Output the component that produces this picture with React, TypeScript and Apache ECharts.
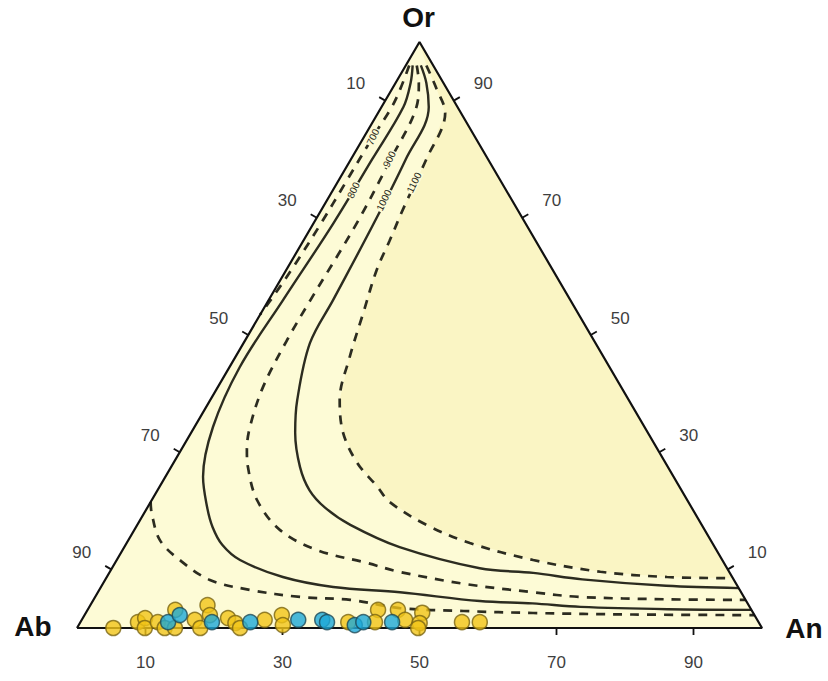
import React, { useEffect, useRef } from "react";
import * as echarts from "echarts";

// Ternary coordinates are [An %, Or %] (Ab = 100 - An - Or)
const vertexLabels = ["Ab", "An", "Or"];
const tickValues = [10, 30, 50, 70, 90];

const iso700a = [[0.5, 96], [1.2, 92], [1.5, 88.9], [1.3, 83.8], [1.2, 76], [1.1, 69.1], [0.8, 62], [0.4, 57], [0, 53.5]];
const iso700b = [[0, 21.5], [1.1, 19.6], [4.6, 15.0], [9.2, 11.6], [15.3, 8.2], [22.0, 6.5], [29.9, 5.3], [37.5, 4.8], [45.4, 3.4], [55, 2.9], [65.3, 2.56], [80, 2.3], [97.8, 2.2]];
const iso800 = [[1.0, 96], [2.2, 93], [3.2, 88.9], [3.1, 80], [2.9, 69.1], [2.1, 56], [1.5, 44.5], [2.7, 34.3], [5.5, 25.8], [8.7, 20.6], [11.2, 17.2], [14.1, 14.2], [18.0, 11.6], [25.7, 8.7], [33.9, 7.0], [44.1, 6.1], [56.5, 4.6], [64.4, 4.2], [71.7, 3.6], [84.6, 3.2], [96.9, 3.1]];
const iso900 = [[1.6, 96], [3.4, 93], [5.1, 88.9], [5.8, 80], [6.3, 69.1], [6.1, 56], [6.1, 49.1], [6.6, 41.1], [8.1, 34.3], [9.6, 30.4], [11.2, 27.5], [15.4, 21.8], [21.3, 16.7], [28.4, 13.3], [36.8, 11.1], [42.2, 9.6], [53, 7.5], [63.5, 6.1], [70.8, 5.3], [83.6, 4.9], [95.2, 4.8]];
const iso1000 = [[2.2, 96], [4.5, 93], [6.9, 88.9], [8.0, 80], [8.8, 69.1], [9.4, 56], [9.7, 48.6], [12.7, 38.9], [15.2, 33.3], [18.8, 27.5], [22.2, 23.5], [26.0, 20.5], [31.1, 17.6], [40.2, 13.8], [53.7, 10.2], [61.9, 9.4], [69.6, 8.3], [82.4, 7.2], [93.2, 6.8]];
const iso1100 = [[3.0, 96], [6.5, 92], [9.8, 87.9], [11.0, 80], [11.8, 72], [12.6, 66], [13.2, 61.1], [14.9, 53.8], [16.7, 46.2], [18.9, 38.9], [22.2, 33.3], [26.8, 28.2], [31.8, 24.1], [34.9, 21.5], [42.2, 17.6], [50.1, 14.5], [60.8, 11.6], [71.6, 9.6], [81.8, 8.7], [91.5, 8.5]];

const tempLabels = ["700", "800", "900", "1000", "1100"];
const tempLabelPos = [[1.3, 83.8], [3.0, 74.7], [5.6, 80], [8.3, 73], [11.2, 76]];

const yellowPoints = [[5.3, 0], [8.4, 1.0], [9.1, 1.7], [9.9, 0], [11.3, 1.0], [12.8, 0], [14.3, 0], [12.8, 3.1], [16.5, 1.4], [17.1, 3.9], [18.3, 2.2], [18.0, 0], [21.2, 1.7], [22.7, 0.85], [23.8, 0], [26.7, 1.4], [28.8, 2.2], [29.8, 0.5], [39.1, 1.0], [42.4, 3.1], [43.0, 1.0], [45.3, 3.1], [47.2, 1.4], [49.1, 2.6], [49.6, 0.85], [49.8, 0], [55.7, 1.0], [58.3, 1.0]];
const bluePoints = [[12.8, 1.0], [13.9, 2.2], [19.2, 1.0], [24.8, 1.0], [31.6, 1.4], [35.1, 1.4], [36.0, 1.0], [40.3, 0.5], [41.3, 1.0], [45.5, 1.0]];

const toXY = (p: number[]) => [p[0] + p[1] / 2, p[1]];

const FILL = "#FDFBD6";
const INNER_FILL = "#FAF5C4";
const LINE = "#2c2c20";
const FONT = '"Liberation Sans", Arial, sans-serif';

export default function App() {
  const ref = useRef<HTMLDivElement>(null);
  useEffect(() => {
    if (!ref.current) return;
    const chart = echarts.init(ref.current, null, { renderer: "svg" });

    const triangle = [[0, 0], [100, 0], [0, 100]]; // Ab, An, Or
    const innerPoly = [...iso1100, [0, 100]];

    const polySeries = (poly: number[][], fill: string, z: number) => ({
      type: "custom",
      coordinateSystem: "cartesian2d",
      silent: true,
      z,
      data: [[0, 0]],
      renderItem: (_p: any, api: any) => ({
        type: "polygon",
        shape: { points: poly.map((q) => api.coord(toXY(q))) },
        style: { fill },
      }),
    });

    const isoSeries = (pts: number[][], dashed: boolean) => ({
      type: "line",
      data: pts.map(toXY),
      symbol: "none",
      smooth: 0.35,
      clip: false,
      z: 3,
      silent: true,
      lineStyle: { color: LINE, width: dashed ? 2.7 : 2.4, type: dashed ? [9, 8] : "solid" },
    });

    // ticks: edge 0 = base (An), 1 = left (Ab), 2 = right (Or)
    const normals = [[0, 1], [-0.866, -0.5], [0.866, -0.5]];
    const tickData: number[][] = [];
    tickValues.forEach((v) => {
      tickData.push([...toXY([v, 0]), 0, v]);
      tickData.push([...toXY([0, 100 - v]), 1, v]);
      tickData.push([...toXY([100 - v, v]), 2, v]);
    });

    const vertexData = triangle.map((q, i) => [...toXY(q), i]);
    const vertexOffsets = [[-44, -2], [42, 0], [-1, -25]];

    chart.setOption({
      animation: false,
      backgroundColor: "#ffffff",
      grid: { left: 77, top: 42, width: 685, height: 586 },
      xAxis: { type: "value", min: 0, max: 100, show: false },
      yAxis: { type: "value", min: 0, max: 100, show: false },
      series: [
        polySeries(triangle, FILL, 0),
        polySeries(innerPoly, INNER_FILL, 1),
        isoSeries(iso700a, true),
        isoSeries(iso700b, true),
        isoSeries(iso800, false),
        isoSeries(iso900, true),
        isoSeries(iso1000, false),
        isoSeries(iso1100, true),
        {
          type: "custom",
          coordinateSystem: "cartesian2d",
          silent: true,
          z: 4,
          data: tempLabelPos.map((q, i) => [...toXY(q), i]),
          renderItem: (_p: any, api: any) => {
            const c = api.coord([api.value(0), api.value(1)]);
            return {
              type: "text",
              x: c[0],
              y: c[1],
              rotation: (64 * Math.PI) / 180,
              style: {
                text: tempLabels[api.value(2)],
                fill: "#2a2a20",
                fontSize: 10,
                fontFamily: FONT,
                align: "center",
                verticalAlign: "middle",
                backgroundColor: FILL,
                padding: [0, 1],
              },
            };
          },
        },
        {
          type: "line",
          data: [...triangle, triangle[0]].map(toXY),
          symbol: "none",
          clip: false,
          silent: true,
          z: 5,
          lineStyle: { color: "#111111", width: 2.2 },
        },
        {
          type: "custom",
          coordinateSystem: "cartesian2d",
          silent: true,
          z: 5,
          data: tickData,
          renderItem: (_p: any, api: any) => {
            const c = api.coord([api.value(0), api.value(1)]);
            const n = normals[api.value(2)];
            return {
              type: "group",
              children: [
                {
                  type: "line",
                  shape: { x1: c[0], y1: c[1], x2: c[0] + n[0] * 7, y2: c[1] + n[1] * 7 },
                  style: { stroke: "#111111", lineWidth: 1.8 },
                },
                {
                  type: "text",
                  x: c[0] + n[0] * 34,
                  y: c[1] + n[1] * 34,
                  style: {
                    text: String(api.value(3)),
                    fill: "#3e3e3e",
                    fontSize: 17,
                    fontFamily: FONT,
                    align: "center",
                    verticalAlign: "middle",
                  },
                },
              ],
            };
          },
        },
        {
          type: "custom",
          coordinateSystem: "cartesian2d",
          silent: true,
          z: 5,
          data: vertexData,
          renderItem: (_p: any, api: any) => {
            const c = api.coord([api.value(0), api.value(1)]);
            const i = api.value(2);
            const o = vertexOffsets[i];
            return {
              type: "text",
              x: c[0] + o[0],
              y: c[1] + o[1],
              style: {
                text: vertexLabels[i],
                fill: "#111111",
                fontSize: 28,
                fontWeight: "bold",
                fontFamily: FONT,
                align: "center",
                verticalAlign: "middle",
              },
            };
          },
        },
        {
          type: "scatter",
          data: yellowPoints.map(toXY),
          symbolSize: 15,
          clip: false,
          z: 6,
          itemStyle: { color: "#F1C418", borderColor: "#7a6512", borderWidth: 1.5 },
        },
        {
          type: "scatter",
          data: bluePoints.map(toXY),
          symbolSize: 15,
          clip: false,
          z: 7,
          itemStyle: { color: "#1DA9D8", borderColor: "#1d4a58", borderWidth: 1.5 },
        },
      ],
    });
    return () => chart.dispose();
  }, []);
  return (
    <div
      ref={ref}
      style={{ position: "fixed", left: 0, top: 0, width: 828, height: 681, background: "#fff" }}
    />
  );
}
